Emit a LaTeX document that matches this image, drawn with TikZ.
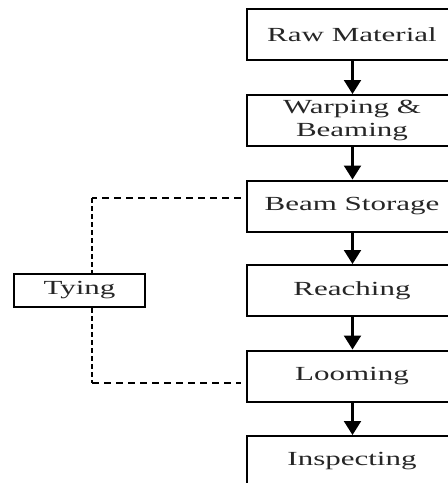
\documentclass[tikz,border=0pt]{standalone}
\usepackage{fontspec}
\newfontfamily\boxfont[FakeStretch=1.55]{Liberation Serif}
\usetikzlibrary{arrows.meta,positioning}
\begin{document}
\begin{tikzpicture}[x=1pt,y=1pt,
  stage/.style={draw, line width=2pt, minimum width=210pt, minimum height=51pt,
    inner sep=0pt, align=center, text=black!85,
    font=\boxfont\fontsize{20}{23}\selectfont},
  side/.style={stage, minimum width=131pt, minimum height=33pt},
  flow/.style={line width=2.2pt, -{Triangle[width=17pt,length=14pt]}},
  link/.style={line width=1.8pt, dash pattern=on 7pt off 5pt}]
  \useasboundingbox (0,0) rectangle (448,-483);
  \clip (0,0) rectangle (448,-483);

  % main process chain
  \node[stage] (raw)   at (352,-34.5)  {Raw Material};
  \node[stage] (warp)  at (352,-120.5) {Warping \&\\Beaming};
  \node[stage] (beam)  at (352,-206)   {Beam Storage};
  \node[stage] (reach) at (352,-290.5) {Reaching};
  \node[stage] (loom)  at (352,-376)   {Looming};
  \node[stage] (insp)  at (352,-461.5) {Inspecting};

  \foreach \a/\b in {raw/warp, warp/beam, beam/reach, reach/loom, loom/insp}
    \draw[flow] (\a.south -| 352.5,0) -- (\b.north -| 352.5,0);

  % side branch
  \node[side] (tie) at (79.5,-290.5) {Tying};
  \coordinate (bt) at ([xshift=-5.5pt,yshift=8pt]beam.west);
  \coordinate (lt) at ([xshift=-5.5pt,yshift=-7pt]loom.west);
  \coordinate (c1) at (92,-198);
  \coordinate (c2) at (92,-383);

  \draw[link] (bt) -- (c1);
  \draw[link, dash pattern=on 4.5pt off 3.5pt] (c1) -- (c1 |- tie.north);
  \draw[link, dash pattern=on 4.5pt off 3.5pt] (c2 |- tie.south) -- (c2);
  \draw[link] (c2) -- (lt);
\end{tikzpicture}
\end{document}
